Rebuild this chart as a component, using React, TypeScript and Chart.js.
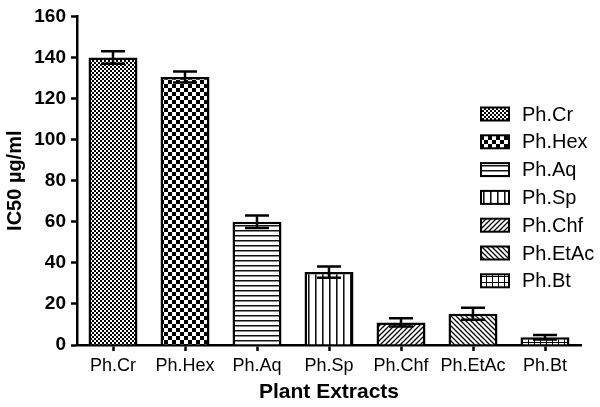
import React, { useEffect, useRef } from "react";
import { Chart, registerables } from "chart.js";

Chart.register(...registerables);

const categories = ["Ph.Cr", "Ph.Hex", "Ph.Aq", "Ph.Sp", "Ph.Chf", "Ph.EtAc", "Ph.Bt"];
const ic50Values = [140, 130.5, 60, 35.5, 11, 15.2, 3.8];
const ic50Errors = [3, 2.7, 3, 2.7, 2, 2.9, 1.1];
const patternKinds = ["fineChecker", "checker", "hlines", "vlines", "diagUp", "diagDown", "grid"];
const yTicks = [0, 20, 40, 60, 80, 100, 120, 140, 160];

const FONT = "'Liberation Sans', Arial, Helvetica, sans-serif";

function makePattern(kind: string): CanvasPattern | string {
  const c = document.createElement("canvas");
  let w = 8, h = 8;
  if (kind === "fineChecker") { w = 4; h = 4; }
  if (kind === "checker") { w = 8; h = 8; }
  if (kind === "hlines") { w = 4; h = 5; }
  if (kind === "vlines") { w = 7; h = 4; }
  if (kind === "diagUp" || kind === "diagDown") { w = 5; h = 5; }
  if (kind === "grid") { w = 6; h = 6; }
  c.width = w; c.height = h;
  const g = c.getContext("2d")!;
  g.fillStyle = "#fff";
  g.fillRect(0, 0, w, h);
  g.fillStyle = "#000";
  g.strokeStyle = "#000";
  if (kind === "fineChecker") {
    g.fillRect(0, 0, 2, 2);
    g.fillRect(2, 2, 2, 2);
  } else if (kind === "checker") {
    g.fillRect(0, 0, 4, 4);
    g.fillRect(4, 4, 4, 4);
  } else if (kind === "hlines") {
    g.fillStyle = "#111";
    g.fillRect(0, 0, w, 1);
    g.fillStyle = "#888";
    g.fillRect(0, 1, w, 1);
  } else if (kind === "vlines") {
    g.fillStyle = "#111";
    g.fillRect(0, 0, 1, h);
    g.fillStyle = "#777";
    g.fillRect(1, 0, 1, h);
  } else if (kind === "diagUp") {
    g.lineWidth = 1.3;
    g.beginPath();
    g.moveTo(-1, h + 1); g.lineTo(w + 1, -1);
    g.moveTo(-1, 1); g.lineTo(1, -1);
    g.moveTo(w - 1, h + 1); g.lineTo(w + 1, h - 1);
    g.stroke();
  } else if (kind === "diagDown") {
    g.lineWidth = 1.3;
    g.beginPath();
    g.moveTo(-1, -1); g.lineTo(w + 1, h + 1);
    g.moveTo(w - 1, -1); g.lineTo(w + 1, 1);
    g.moveTo(-1, h - 1); g.lineTo(1, h + 1);
    g.stroke();
  } else if (kind === "grid") {
    g.fillRect(0, 0, w, 1);
    g.fillRect(0, 0, 1, h);
  }
  const p = g.createPattern(c, "repeat");
  return p || "#888";
}

const errorBarPlugin = {
  id: "errorBars",
  afterDatasetsDraw(chart: any) {
    const ctx = chart.ctx;
    const meta = chart.getDatasetMeta(0);
    const ys = chart.scales.y;
    ctx.save();
    ctx.strokeStyle = "#000";
    ctx.lineWidth = 2.5;
    meta.data.forEach((bar: any, i: number) => {
      const v = ic50Values[i];
      const e = ic50Errors[i];
      const x = bar.x;
      const yTop = ys.getPixelForValue(v + e);
      const yBot = ys.getPixelForValue(v - e);
      const half = 12;
      ctx.beginPath();
      ctx.moveTo(x, yTop);
      ctx.lineTo(x, yBot);
      ctx.moveTo(x - half, yTop);
      ctx.lineTo(x + half, yTop);
      ctx.moveTo(x - half, yBot);
      ctx.lineTo(x + half, yBot);
      ctx.stroke();
    });
    ctx.restore();
  },
};

const legendPlugin = {
  id: "patternLegend",
  afterDraw(chart: any) {
    const ctx = chart.ctx;
    const fills = chart.data.datasets[0].backgroundColor as any[];
    ctx.save();
    const boxX = 481, boxW = 28, boxH = 13;
    const textX = 522;
    const y0 = 114, step = 27.8;
    ctx.font = `20px ${FONT}`;
    ctx.textBaseline = "middle";
    ctx.textAlign = "left";
    categories.forEach((label, i) => {
      const cy = y0 + i * step;
      ctx.fillStyle = fills[i];
      ctx.fillRect(boxX, cy - boxH / 2, boxW, boxH);
      ctx.strokeStyle = "#000";
      ctx.lineWidth = 2;
      ctx.strokeRect(boxX, cy - boxH / 2, boxW, boxH);
      ctx.fillStyle = "#000";
      ctx.fillText(label, textX, cy + 1);
    });
    ctx.restore();
  },
};

export default function App() {
  const canvasRef = useRef<HTMLCanvasElement | null>(null);

  useEffect(() => {
    const canvas = canvasRef.current;
    if (!canvas) return;
    const fills = patternKinds.map((k) => makePattern(k));
    const chart = new Chart(canvas, {
      type: "bar",
      data: {
        labels: categories,
        datasets: [
          {
            data: ic50Values,
            backgroundColor: fills as any,
            borderColor: "#000",
            borderWidth: 2.5,
            barPercentage: 0.68,
            categoryPercentage: 1,
          },
        ],
      },
      options: {
        responsive: false,
        animation: false,
        devicePixelRatio: 1,
        layout: { padding: { top: 12, right: 19, bottom: 0, left: 0 } },
        plugins: {
          legend: { display: false },
          tooltip: { enabled: false },
        },
        scales: {
          x: {
            offset: true,
            grid: {
              display: true,
              drawOnChartArea: false,
              offset: false,
              tickLength: 6,
              tickWidth: 2.5,
              tickColor: "#000",
            },
            border: { display: true, color: "#000", width: 2.5 },
            ticks: {
              color: "#000",
              padding: 4,
              maxRotation: 0,
              autoSkip: false,
              font: { family: FONT, size: 18 },
            },
            title: {
              display: true,
              text: "Plant Extracts",
              color: "#000",
              padding: { top: 2, bottom: 2 },
              font: { family: FONT, size: 21, weight: "bold" },
            },
            afterFit(scale: any) {
              scale.height = 62;
            },
          },
          y: {
            min: 0,
            max: 160,
            afterBuildTicks(scale: any) {
              scale.ticks = yTicks.map((v) => ({ value: v }));
            },
            grid: {
              display: true,
              drawOnChartArea: false,
              tickLength: 6,
              tickWidth: 2.5,
              tickColor: "#000",
            },
            border: { display: true, color: "#000", width: 2.5 },
            ticks: {
              color: "#000",
              padding: 5,
              font: { family: FONT, size: 19, weight: "bold" },
            },
            title: {
              display: true,
              text: "IC50 µg/ml",
              color: "#000",
              padding: { top: 3, bottom: 4 },
              font: { family: FONT, size: 20, weight: "bold" },
            },
            afterFit(scale: any) {
              scale.width = 77;
            },
          },
        },
      },
      plugins: [errorBarPlugin, legendPlugin],
    });
    return () => chart.destroy();
  }, []);

  return (
    <div style={{ position: "absolute", left: 0, top: 0, width: 600, height: 407, background: "#fff" }}>
      <canvas ref={canvasRef} width={600} height={407} style={{ width: 600, height: 407, display: "block" }} />
    </div>
  );
}
